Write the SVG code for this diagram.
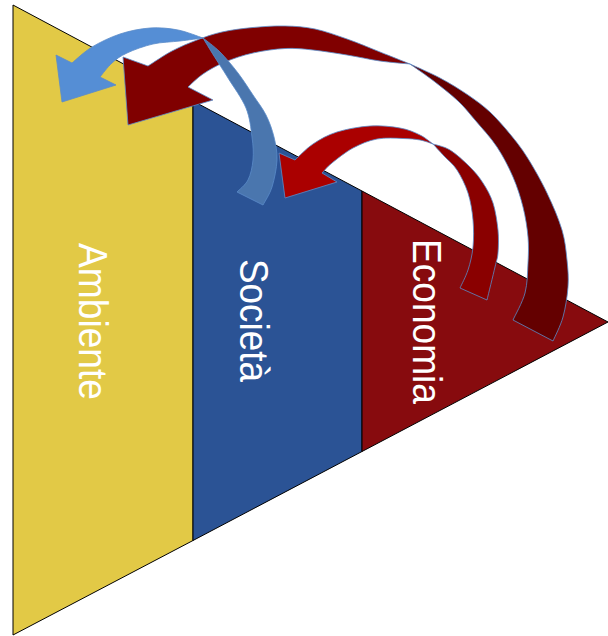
<svg xmlns="http://www.w3.org/2000/svg" width="608" height="636" viewBox="0 0 608 636">
<style>
.strip{stroke:#000;stroke-width:1;stroke-linejoin:miter}
.lbl{font-family:"Liberation Sans",Arial,sans-serif;font-size:40px;fill:#fff}
.arr{stroke:#5B8BC9;stroke-width:0.8;stroke-linejoin:miter}
</style>
<rect width="608" height="636" fill="#fff"/>
<g id="ambiente">
<polygon class="strip" points="13,5 193,101 193,540.5 13,635" fill="#E2C946"/>
<text class="lbl" x="79" y="243" transform="rotate(90 79 243)" textLength="157" lengthAdjust="spacingAndGlyphs">Ambiente</text>
</g>
<g id="societa">
<polygon class="strip" points="193,101 362,191 362,451.5 193,540.5" fill="#2B5395"/>
<text class="lbl" x="240" y="259" transform="rotate(90 240 259)" textLength="123" lengthAdjust="spacingAndGlyphs">Società</text>
</g>
<g id="economia">
<polygon class="strip" points="362,191 608,322 362,451.5" fill="#870B0E"/>
<text class="lbl" x="413" y="239" transform="rotate(90 413 239)" textLength="165" lengthAdjust="spacingAndGlyphs">Economia</text>
</g>
<g id="connectors">
<path class="arr" fill="#640000" d="M410,64 C415,66.3 430.3,72.8 440,78 C449.7,83.2 459.7,89.3 468,95 C476.3,100.7 483,105.5 490,112 C497,118.5 503.8,126.5 510,134 C516.2,141.5 520.8,147.2 527,157 C533.2,166.8 541.2,180.8 547,193 C552.8,205.2 558.7,218.8 562,230 C565.3,241.2 566,250.5 567,260 C568,269.5 568.7,277.5 568,287 C567.3,296.5 565.5,308 563,317 C560.5,326 554.7,337 553,341 L513,320 C515,315.5 522.5,302.5 525,293 C527.5,283.5 527.5,272.3 528,263 C528.5,253.7 528.8,246.3 528,237 C527.2,227.7 525.5,217 523,207 C520.5,197 517.3,187 513,177 C508.7,167 503.3,156.5 497,147 C490.7,137.5 481.5,127.7 475,120 C468.5,112.3 464.7,107.3 458,101 C451.3,94.7 443,88.2 435,82 C427,75.8 414.2,67 410,64 Z"/>
<path class="arr" fill="#800000" d="M128,125 L123,57 L148,66 C152,63.5 163.8,55.3 172,51 C180.2,46.7 188.7,43.2 197,40 C205.3,36.8 212.7,34.1 222,32 C231.3,29.9 242.5,28.5 253,27.5 C263.5,26.5 274.7,25.75 285,26 C295.3,26.25 304.7,26.8 315,29 C325.3,31.2 336.2,35.2 347,39 C357.8,42.8 369.5,47.8 380,52 C390.5,56.2 405,62 410,64 C405,63.5 390.5,62.5 380,61 C369.5,59.5 358.2,56.8 347,55 C335.8,53.2 323.3,51.1 313,50 C302.7,48.9 295,48 285,48.5 C275,49 263,50.75 253,53 C243,55.25 233.3,58.5 225,62 C216.7,65.5 209.2,69.8 203,74 C196.8,78.2 190.5,84.8 188,87 L213,100 Z"/>
<path class="arr" fill="#8A0000" d="M433,144 C435.8,145 443.8,146.2 450,150 C456.2,153.8 464.5,161.5 470,167 C475.5,172.5 479.2,177 483,183 C486.8,189 490.5,195.2 493,203 C495.5,210.8 497.2,221.7 498,230 C498.8,238.3 498.5,246.8 498,253 C497.5,259.2 496.8,259.2 495,267 C493.2,274.8 488.3,294.5 487,300 L460,288 C461.3,285 465.8,276.8 468,270 C470.2,263.2 472.2,255.3 473,247 C473.8,238.7 473.8,229 473,220 C472.2,211 470.7,201.3 468,193 C465.3,184.7 461,176.2 457,170 C453,163.8 448,160.3 444,156 C440,151.7 434.8,146 433,144 Z"/>
<path class="arr" fill="#AA0000" d="M285,198 L279,153 L295,160 C298,157.3 306,148.7 313,144 C320,139.3 327.5,135 337,132 C346.5,129 359.5,126.7 370,126 C380.5,125.3 391.7,126.5 400,128 C408.3,129.5 414.5,132.3 420,135 C425.5,137.7 430.8,142.5 433,144 C430.8,143.3 425,140.9 420,140 C415,139.1 410.2,138.7 403,138.5 C395.8,138.3 385.3,137.4 377,139 C368.7,140.6 360.5,144 353,148 C345.5,152 337.2,158.8 332,163 C326.8,167.2 323.7,171.3 322,173 L337,182 Z"/>
<path class="arr" fill="#4A76AE" d="M203,38 C205.8,40.3 214.2,46.2 220,52 C225.8,57.8 232.5,65.8 238,73 C243.5,80.2 248.3,88 253,95 C257.7,102 262.5,108 266,115 C269.5,122 272.2,129.5 274,137 C275.8,144.5 277.3,151.7 277,160 C276.7,168.3 274.3,179.5 272,187 C269.7,194.5 264.5,202 263,205 L237,192 C238.8,190 245.3,185.3 248,180 C250.7,174.7 252.3,167.2 253,160 C253.7,152.8 253.2,145.7 252,137 C250.8,128.3 250,117.8 246,108 C242,98.2 233.3,86.7 228,78 C222.7,69.3 218.2,62.7 214,56 C209.8,49.3 204.8,41 203,38 Z"/>
<path class="arr" fill="#558ED5" d="M62,102 L56,55 L72,63 C75.3,60.3 84,51.8 92,47 C100,42.2 110.3,37.2 120,34 C129.7,30.8 140.3,28.7 150,28 C159.7,27.3 169.2,28.3 178,30 C186.8,31.7 198.8,36.7 203,38 C199.2,38.5 188.3,40 180,41 C171.7,42 161.8,42 153,44 C144.2,46 133.8,49.8 127,53 C120.2,56.2 116.5,59 112,63 C107.5,67 102,74.7 100,77 L116,85 Z"/>
</g>
</svg>
